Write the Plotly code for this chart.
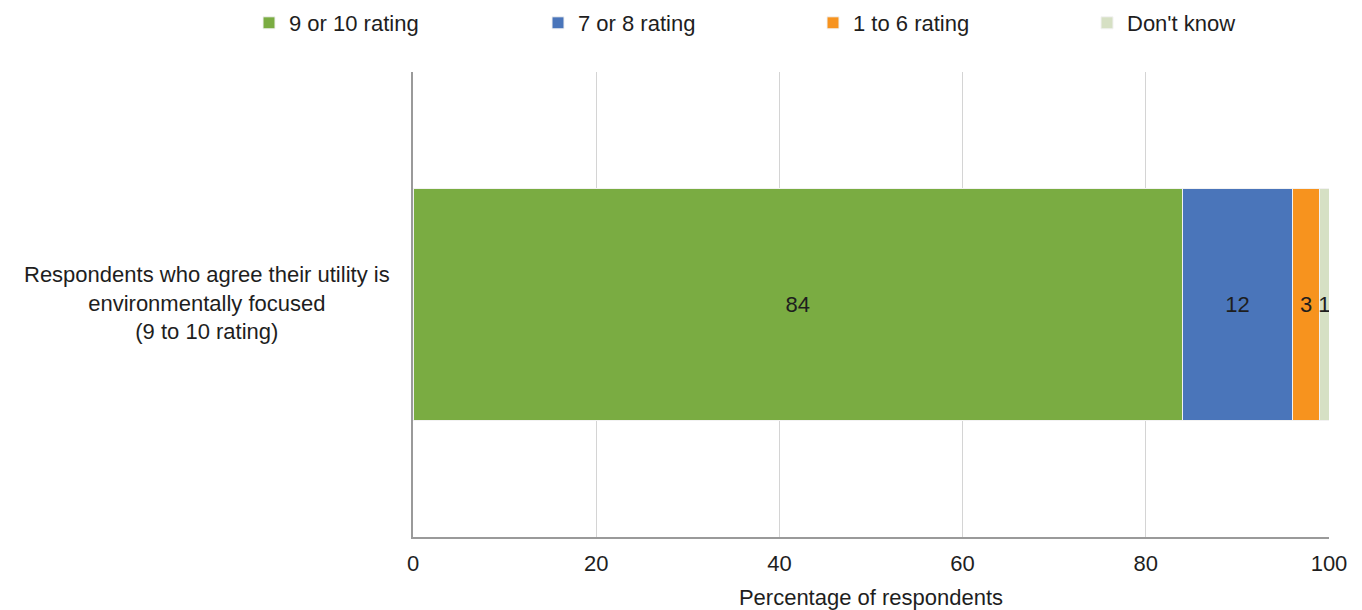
import plotly.graph_objects as go

categories = ["Respondents who agree their utility is<br>environmentally focused<br>(9 to 10 rating)"]
series_names = ["9 or 10 rating", "7 or 8 rating", "1 to 6 rating", "Don't know"]
series_values = [[84], [12], [3], [1]]
colors = ["#7AAC42", "#4A75BA", "#F7931E", "#D6E0C4"]
tick_vals = [0, 20, 40, 60, 80, 100]

W, H = 1362, 610
FONT = "Liberation Sans, Arial, sans-serif"
TXT = "#1E1E1E"
# legend left edges (figure px) for each entry
legend_left = [241, 530, 805, 1079]
legend_ids = ["legend", "legend2", "legend3", "legend4"]

fig = go.Figure()
for name, vals, col, lid in zip(series_names, series_values, colors, legend_ids):
    fig.add_trace(go.Bar(
        y=[0], x=vals, name=name, orientation="h", legend=lid,
        marker=dict(color=col, line=dict(color="#F2F2F2", width=1)),
        text=[str(v) for v in vals], textposition="inside",
        insidetextanchor="middle",
        textfont=dict(color=TXT, size=22, family=FONT),
        width=0.5,
    ))

layout_legends = {}
for lid, lx in zip(legend_ids, legend_left):
    layout_legends[lid] = dict(
        x=lx / W, xref="container", xanchor="left",
        y=1 - 15 / H, yref="container", yanchor="middle",
        font=dict(size=22, color=TXT, family=FONT),
        bgcolor="rgba(0,0,0,0)", borderwidth=0,
    )

fig.update_layout(
    barmode="stack",
    width=W, height=H,
    margin=dict(l=405, r=41, t=64, b=81, autoexpand=False),
    plot_bgcolor="white", paper_bgcolor="white",
    font=dict(family=FONT, size=22, color=TXT),
    uniformtext=dict(minsize=22, mode="show"),
    showlegend=True,
    annotations=[dict(
        text=categories[0], xref="paper", yref="y", x=0, y=0,
        xanchor="right", yanchor="middle", xshift=-21, yshift=2, align="center",
        showarrow=False, font=dict(size=22, color=TXT, family=FONT))],
    **layout_legends,
)
fig.update_xaxes(range=[0, 100], tickvals=tick_vals, showgrid=True,
                 gridcolor="#D4D4D4", gridwidth=1, showline=True,
                 linecolor="#9A9A9A", linewidth=2, ticks="", zeroline=False,
                 ticklabelstandoff=6,
                 title=dict(text="Percentage of respondents", standoff=14,
                            font=dict(size=22, color=TXT, family=FONT)),
                 tickfont=dict(size=22, color=TXT, family=FONT))
fig.update_yaxes(range=[-0.5, 0.5], showticklabels=False, showgrid=False,
                 showline=True, linecolor="#9A9A9A", linewidth=2, zeroline=False)

fig.write_html("out.html")
